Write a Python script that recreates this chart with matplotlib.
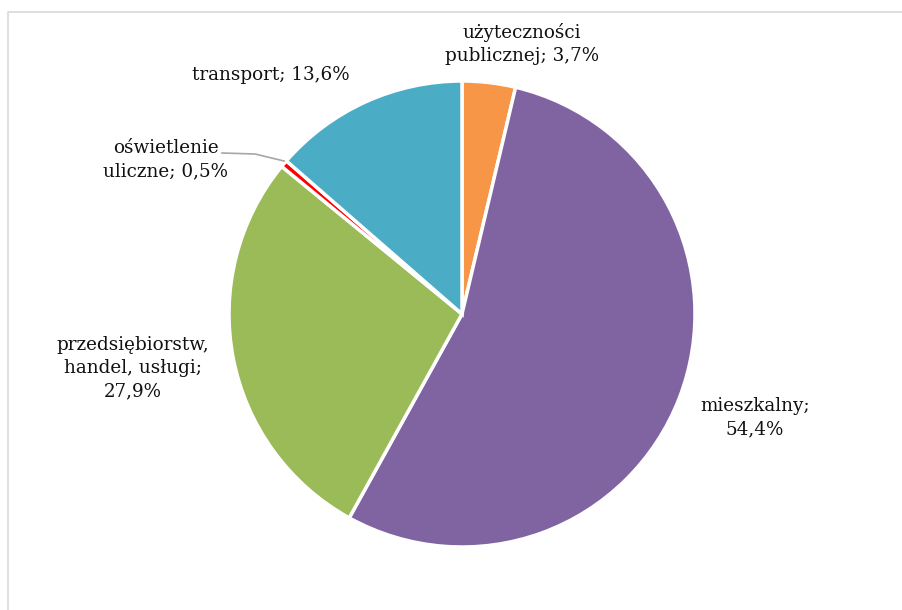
import matplotlib.pyplot as plt

# sector shares (%), clockwise from 12 o'clock
labels = ["użyteczności\npublicznej; 3,7%", "mieszkalny;\n54,4%",
          "przedsiębiorstw,\nhandel, usługi;\n27,9%", "oświetlenie\nuliczne; 0,5%",
          "transport; 13,6%"]
values = [3.7, 54.4, 27.9, 0.5, 13.6]
colors = ["#F79646", "#8064A2", "#9BBB59", "#FF0000", "#4BACC6"]

W, H = 903, 610
fig = plt.figure(figsize=(W / 100, H / 100), dpi=100)
ax = fig.add_axes([0, 0, 1, 1])
ax.pie(values, colors=colors, startangle=90, counterclock=False,
       center=(462, H - 314), radius=233,
       wedgeprops=dict(edgecolor="white", linewidth=2.5), frame=False)
ax.set_xlim(0, W)
ax.set_ylim(0, H)
ax.set_aspect("equal")
ax.axis("off")

# chart border (left and top edges visible)
ax.plot([8, 8, W + 5], [-5, H - 12, H - 12], color="#D9D9D9", lw=1.2, clip_on=False)

font = dict(family="DejaVu Serif", fontsize=13.2, color="#111111", ha="center", va="center",
            linespacing=1.38)
pos = [(522, H - 44), (755, H - 418), (133, H - 368), (166, H - 160), (271, H - 75)]
for lab, (x, y) in zip(labels, pos):
    ax.text(x, y, lab, **font)

# leader line for the tiny slice
ax.plot([222, 255, 284], [H - 153, H - 154, H - 161], color="#A6A6A6", lw=1.2)

fig.savefig("out.png", dpi=100)
